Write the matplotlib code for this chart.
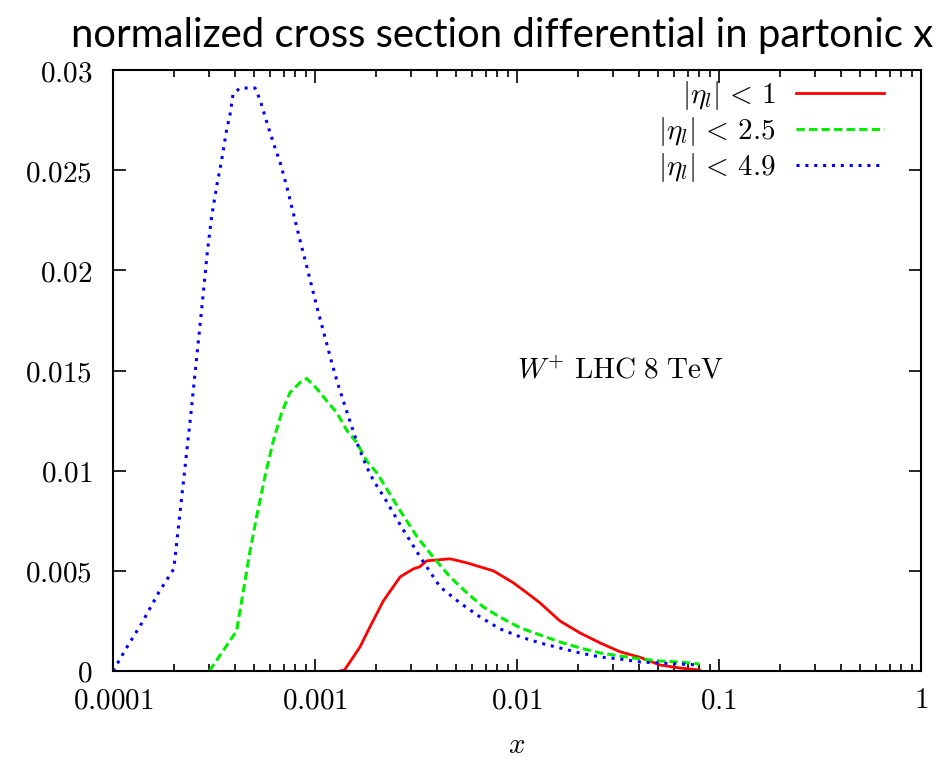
import matplotlib
matplotlib.use("Agg")
import matplotlib.pyplot as plt
from matplotlib.ticker import FixedLocator, LogLocator, NullFormatter, NullLocator

plt.rcParams['mathtext.fontset'] = 'cm'

# |eta_l| < 1
x_eta1 = [1.33e-3, 1.40e-3, 1.67e-3, 1.87e-3, 2.18e-3, 2.64e-3, 3.07e-3, 3.3e-3,
          3.57e-3, 4.66e-3, 5.64e-3, 6.56e-3, 7.64e-3, 9.6e-3, 1.12e-2, 1.3e-2,
          1.63e-2, 2.05e-2, 2.58e-2, 3.24e-2, 4.07e-2, 5.1e-2, 6.4e-2, 8.0e-2]
y_eta1 = [0.0, 0.00005, 0.0012, 0.0022, 0.0035, 0.0047, 0.0051, 0.0052,
          0.0055, 0.0056, 0.0054, 0.0052, 0.0050, 0.0044, 0.0039, 0.0034,
          0.0025, 0.0019, 0.0014, 0.00096, 0.00068, 0.0003, 0.00015, 0.00005]

# |eta_l| < 2.5
x_eta25 = [3e-4, 4.09e-4, 4.42e-4, 4.77e-4, 5.14e-4, 5.65e-4, 6.22e-4, 6.84e-4,
           7.52e-4, 8.43e-4, 9.1e-4, 1.02e-3, 1.14e-3, 1.28e-3, 1.44e-3, 1.61e-3,
           1.8e-3, 2.02e-3, 2.17e-3, 2.64e-3, 3.2e-3, 3.84e-3, 4.66e-3, 5.65e-3,
           6.8e-3, 8.2e-3, 1.04e-2, 1.3e-2, 1.63e-2, 2.05e-2, 2.58e-2, 3.24e-2,
           4.07e-2, 5.1e-2, 6.4e-2, 8.0e-2]
y_eta25 = [0.0, 0.002, 0.004, 0.006, 0.0077, 0.0097, 0.0115, 0.0129,
           0.0139, 0.0144, 0.0146, 0.0141, 0.0135, 0.0129, 0.0120, 0.0114,
           0.0105, 0.0099, 0.0094, 0.0080, 0.0067, 0.0057, 0.0047, 0.0039,
           0.0032, 0.0027, 0.00215, 0.0018, 0.00145, 0.00115, 0.0009, 0.00075,
           0.0006, 0.0005, 0.00045, 0.00035]

# |eta_l| < 4.9
x_eta49 = [1e-4, 1.15e-4, 1.39e-4, 1.68e-4, 2e-4, 2.41e-4, 2.75e-4, 2.93e-4,
           3.08e-4, 3.26e-4, 3.45e-4, 3.65e-4, 3.8e-4, 3.93e-4, 4.25e-4, 5.05e-4,
           5.35e-4, 5.77e-4, 6.2e-4, 6.71e-4, 7.24e-4, 7.79e-4, 8.43e-4, 9.1e-4,
           1.02e-3, 1.21e-3, 1.30e-3, 1.41e-3, 1.52e-3, 1.64e-3, 1.8e-3, 1.95e-3,
           2.22e-3, 2.64e-3, 3.31e-3, 4.16e-3, 5.22e-3, 6.56e-3, 8.24e-3, 1.04e-2,
           1.3e-2, 1.63e-2, 2.05e-2, 2.58e-2, 3.24e-2, 4.07e-2, 5.1e-2, 6.4e-2, 8.0e-2]
y_eta49 = [0.0, 0.00105, 0.0024, 0.0039, 0.0051, 0.0125, 0.0181, 0.0209,
           0.0227, 0.0242, 0.0255, 0.0270, 0.0278, 0.0288, 0.0291, 0.0291,
           0.0285, 0.0274, 0.0264, 0.0254, 0.0242, 0.0229, 0.0215, 0.0202,
           0.0182, 0.0154, 0.0143, 0.0132, 0.0122, 0.0112, 0.0102, 0.0095,
           0.0086, 0.0073, 0.0057, 0.0042, 0.0034, 0.0027, 0.0021, 0.0017,
           0.0014, 0.00115, 0.0009, 0.0007, 0.0006, 0.00045, 0.0004, 0.00035, 0.0003]

x_ticks = [1e-4, 1e-3, 1e-2, 1e-1, 1.0]
x_tick_labels = ['0.0001', '0.001', '0.01', '0.1', '1']
y_ticks = [0, 0.005, 0.01, 0.015, 0.02, 0.025, 0.03]
y_tick_labels = ['0', '0.005', '0.01', '0.015', '0.02', '0.025', '0.03']

fig = plt.figure(figsize=(9.41, 7.59), dpi=100)
ax = fig.add_axes([113 / 941, 88 / 759, 808 / 941, 601 / 759])

ax.plot(x_eta1, y_eta1, color='#ff0000', lw=2.0, label=r'$|\eta_l|\,<\,1$')
ax.plot(x_eta25, y_eta25, color='#00ee00', lw=2.2,
        linestyle=(0, (2.7, 1.4)), dash_capstyle='butt',
        label=r'$|\eta_l|\,<\,2.5$')
ax.plot(x_eta49, y_eta49, color='#0000ff', lw=2.2,
        linestyle=(0, (1.0, 1.9)), dash_capstyle='butt',
        label=r'$|\eta_l|\,<\,4.9$')

ax.set_xscale('log')
ax.set_xlim(1e-4, 1)
ax.set_ylim(0, 0.03)

ax.xaxis.set_major_locator(FixedLocator(x_ticks))
ax.set_xticklabels([f'${t}$' for t in x_tick_labels])
ax.xaxis.set_minor_locator(LogLocator(base=10, subs=range(2, 10)))
ax.xaxis.set_minor_formatter(NullFormatter())
ax.set_yticks(y_ticks)
ax.set_yticklabels([f'${t}$' for t in y_tick_labels])
ax.yaxis.set_minor_locator(NullLocator())

ax.tick_params(which='both', direction='in', top=True, right=True,
               labelsize=21, width=1.2, colors='black')
ax.tick_params(which='major', length=9)
ax.tick_params(which='minor', length=5)
ax.tick_params(axis='x', which='major', pad=11)
ax.tick_params(axis='y', which='major', pad=15)
for spine in ax.spines.values():
    spine.set_linewidth(1.5)

ax.set_xlabel(r'$x$', fontsize=21, labelpad=12)

ax.text(0.01, 0.015, r'$W^{+}\ \mathrm{LHC\ 8\ TeV}$', fontsize=21,
        ha='left', va='center')

ax.legend(loc='upper right', bbox_to_anchor=(0.954, 0.985), frameon=False,
          markerfirst=False, fontsize=21, handlelength=3.0, handletextpad=0.7,
          labelspacing=0.1, borderpad=0, borderaxespad=0)

fig.text(502 / 941, 1 - 35 / 759,
         'normalized cross section differential in partonic x',
         fontsize=28.8, family='Lato', ha='center', va='center')

fig.savefig('out.png', dpi=100)
